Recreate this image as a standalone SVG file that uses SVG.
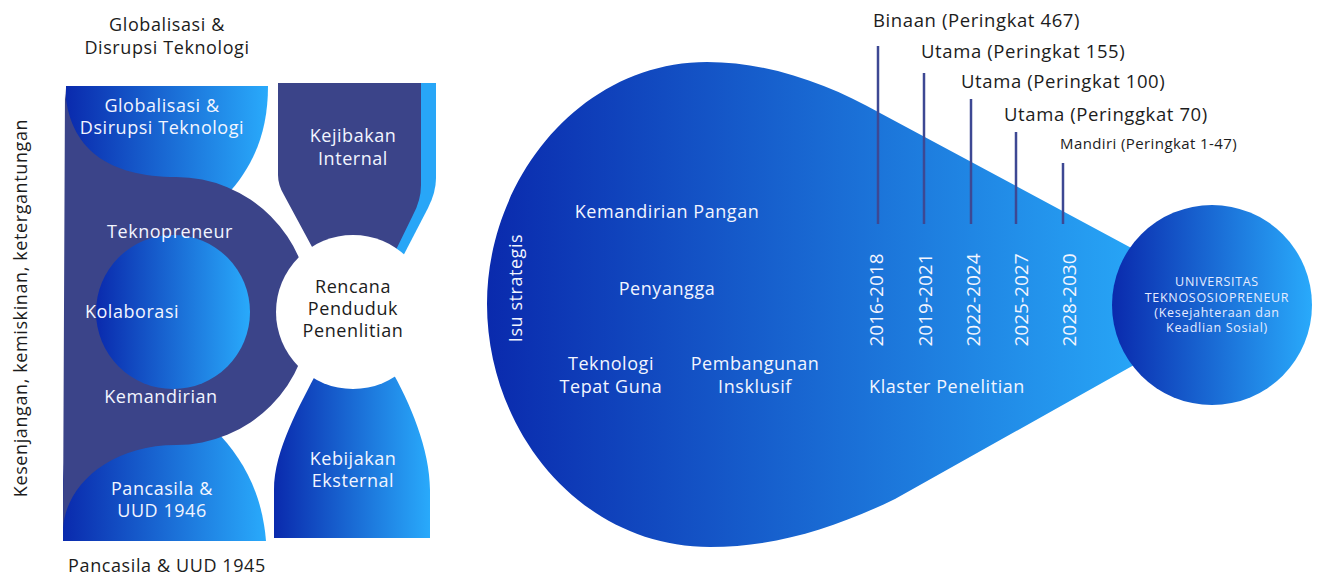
<svg xmlns="http://www.w3.org/2000/svg" width="1319" height="585" viewBox="0 0 1319 585">
<defs>
<linearGradient id="gL" x1="0" y1="0" x2="1" y2="0"><stop offset="0" stop-color="#0a2aad"/><stop offset="1" stop-color="#29aafb"/></linearGradient>
<linearGradient id="gDrop" gradientUnits="userSpaceOnUse" x1="487" y1="0" x2="1150" y2="0"><stop offset="0" stop-color="#0a2aad"/><stop offset="1" stop-color="#28a8f8"/></linearGradient>
<style>
text{font-family:"Open Sans","Liberation Sans",sans-serif;}
.w{fill:#f2f5ff;font-size:18px;letter-spacing:0.55px;text-anchor:middle;}
.b{fill:#1c1c1c;font-size:18px;letter-spacing:0.6px;text-anchor:middle;}
.r{fill:#1c1c1c;font-size:18.5px;letter-spacing:0.6px;}
.yr{fill:#f2f5ff;font-size:19px;text-anchor:middle;}
.u{fill:#e6ecff;font-size:12.5px;letter-spacing:0.7px;text-anchor:middle;}
.dark{fill:#3b4489;}
.ln{stroke:#3d4893;stroke-width:2.5;fill:none;}
</style>
</defs>
<rect width="1319" height="585" fill="#ffffff"/>

<g id="left-titles">
<text class="b" x="167" y="31">Globalisasi &amp;</text>
<text class="b" x="167" y="54">Disrupsi Teknologi</text>
<text class="b" x="167" y="572">Pancasila &amp; UUD 1945</text>
<text class="b" transform="translate(27,308) rotate(-90)">Kesenjangan, kemiskinan, ketergantungan</text>
</g>

<g id="node-globalisasi">
<path fill="url(#gL)" d="M66,86 H268 C268,130 255,165 226,196 L66,196 Z"/>
</g>
<g id="node-pancasila">
<path fill="url(#gL)" d="M63,541 V480 L66,430 H215 C240,455 262,490 266,541 Z"/>
</g>
<g id="node-core">
<path class="dark" d="M65,88 C68,150 110,177 176,177 A134,134 0 0 1 176,445 C110,445 66,485 63,528 Z"/>
<circle cx="173" cy="312" r="77" fill="url(#gL)"/>
</g>
<g id="node-kejibakan">
<path fill="#28a6f7" d="M300,83 H436 V178 Q436,192 428,208 L400,262 L330,262 Z"/>
<path class="dark" d="M278,83 H421 V185 Q421,200 413,215 L392,258 L318,258 L284,195 Q278,185 278,175 Z"/>
</g>
<g id="node-kebijakan">
<path fill="url(#gL)" d="M318,370 C300,405 274,450 274,490 V538 H430 V490 C430,450 410,402 390,368 Z"/>
</g>
<g id="node-rencana">
<circle cx="353" cy="312" r="77" fill="#ffffff"/>
</g>

<g id="left-labels">
<text class="w" x="162" y="112">Globalisasi &amp;</text>
<text class="w" x="162" y="134">Dsirupsi Teknologi</text>
<text class="w" x="353" y="142">Kejibakan</text>
<text class="w" x="353" y="165">Internal</text>
<text class="w" x="170" y="238">Teknopreneur</text>
<text class="w" x="132" y="318">Kolaborasi</text>
<text class="w" x="161" y="403">Kemandirian</text>
<text class="b" x="353" y="293">Rencana</text>
<text class="b" x="353" y="315">Penduduk</text>
<text class="b" x="353" y="337">Penenlitian</text>
<text class="w" x="353" y="465">Kebijakan</text>
<text class="w" x="353" y="487">Eksternal</text>
<text class="w" x="162" y="495">Pancasila &amp;</text>
<text class="w" x="162" y="517">UUD 1946</text>
</g>

<g id="node-isu">
<path fill="url(#gDrop)" d="M1150,258 L880,113 C830,85 770,62 707,62 C580,62 487,180 487,304 C487,430 580,547 710,547 C775,547 835,528 895,499 L1150,356 Z"/>
<text class="w" transform="translate(522,288) rotate(-90)">Isu strategis</text>
<text class="w" x="667" y="218">Kemandirian Pangan</text>
<text class="w" x="667" y="295">Penyangga</text>
<text class="w" x="611" y="370">Teknologi</text>
<text class="w" x="611" y="393">Tepat Guna</text>
<text class="w" x="755" y="370">Pembangunan</text>
<text class="w" x="755" y="393">Insklusif</text>
<text class="w" x="947" y="393">Klaster Penelitian</text>
<text class="yr" transform="translate(883,300) rotate(-90)">2016-2018</text>
<text class="yr" transform="translate(932,300) rotate(-90)">2019-2021</text>
<text class="yr" transform="translate(980,300) rotate(-90)">2022-2024</text>
<text class="yr" transform="translate(1028,300) rotate(-90)">2025-2027</text>
<text class="yr" transform="translate(1076,300) rotate(-90)">2028-2030</text>
</g>

<g id="connectors">
<line class="ln" x1="878" y1="46" x2="878" y2="224"/>
<line class="ln" x1="924" y1="73" x2="924" y2="224"/>
<line class="ln" x1="971" y1="99" x2="971" y2="224"/>
<line class="ln" x1="1016" y1="132" x2="1016" y2="224"/>
<line class="ln" x1="1063" y1="163" x2="1063" y2="224"/>
</g>

<g id="rank-labels">
<text class="r" x="873" y="27">Binaan (Peringkat 467)</text>
<text class="r" x="921" y="58">Utama (Peringkat 155)</text>
<text class="r" x="961" y="88">Utama (Peringkat 100)</text>
<text class="r" x="1004" y="121">Utama (Peringgkat 70)</text>
<text class="r" x="1060" y="149" style="font-size:15px;letter-spacing:0.4px">Mandiri (Peringkat 1-47)</text>
</g>

<g id="node-universitas">
<circle cx="1212" cy="305" r="100" fill="url(#gL)"/>
<text class="u" x="1217" y="286">UNIVERSITAS</text>
<text class="u" x="1217" y="302">TEKNOSOSIOPRENEUR</text>
<text class="u" x="1217" y="317">(Kesejahteraan dan</text>
<text class="u" x="1217" y="332">Keadlian Sosial)</text>
</g>
</svg>
